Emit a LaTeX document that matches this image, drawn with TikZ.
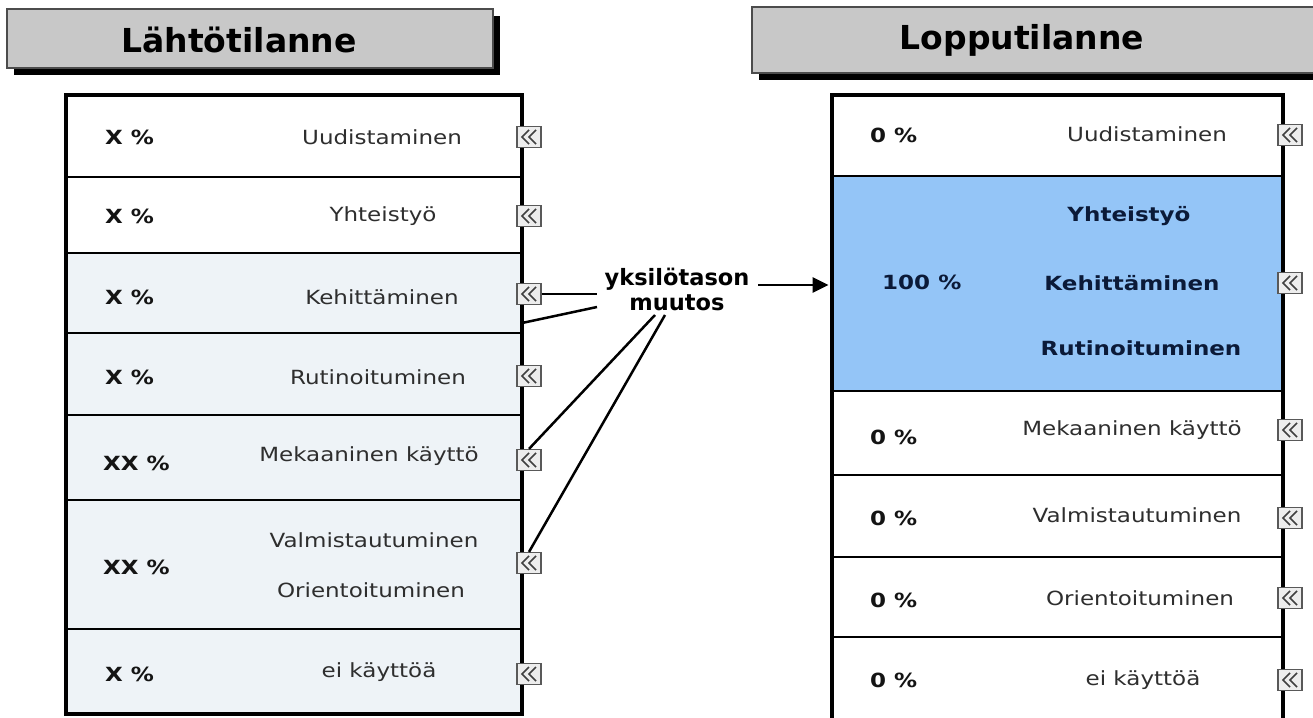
\documentclass[tikz,border=0pt]{standalone}
\usepackage{fontspec}
\setmainfont{DejaVu Sans}
\newfontfamily\rowfont[FakeStretch=1.18]{DejaVu Sans}
\usetikzlibrary{arrows.meta,shadows}
\definecolor{lightrow}{HTML}{EEF3F7}
\definecolor{hilite}{HTML}{94C5F7}
\definecolor{titlegrey}{HTML}{C8C8C8}
\definecolor{labelgrey}{HTML}{2E2E2E}
\definecolor{navy}{HTML}{0B1A38}
\definecolor{icongrey}{HTML}{EDEDED}
\begin{document}
\begin{tikzpicture}[x=1pt,y=-1pt,
  titlebox/.style={draw=black!70, line width=1.4pt, fill=titlegrey, inner sep=0pt,
    drop shadow={shadow xshift=7pt, shadow yshift=-7pt, opacity=1, fill=black}},
  titletext/.style={font=\fontsize{33}{38}\selectfont\bfseries, text=black},
  lrow/.style={draw=black, line width=2.8pt, inner sep=0pt, minimum width=454pt},
  rrow/.style={draw=black, line width=2.8pt, inner sep=0pt, minimum width=449pt},
  pct/.style={font=\rowfont\fontsize{19.5}{23}\selectfont\bfseries, text=black!92, anchor=west, inner sep=0pt},
  lab/.style={font=\rowfont\fontsize{19.5}{23}\selectfont, text=labelgrey, inner sep=0pt},
  hlab/.style={font=\rowfont\fontsize{19.5}{23}\selectfont\bfseries, text=navy, inner sep=0pt},
  icon/.style={draw=black!65, line width=1.2pt, fill=icongrey, minimum width=24pt, minimum height=21pt, inner sep=0pt,
    path picture={
      \draw[black!75, line width=1.6pt]
        ([shift={(0,-7)}]path picture bounding box.center) -- ++(-7,7) -- ++(7,7);
      \draw[black!75, line width=1.6pt]
        ([shift={(7,-7)}]path picture bounding box.center) -- ++(-7,7) -- ++(7,7);
    }},
  conn/.style={draw=black, line width=2.5pt},
  midlab/.style={font=\fontsize{22.5}{25}\selectfont\bfseries, align=center, inner sep=0pt, text=black}
]
\useasboundingbox (0,0) rectangle (1313,717);
\fill[white] (0,0) rectangle (1313,717);
\clip (0,0) rectangle (1313,717);

% titles
\node[titlebox, minimum width=486pt, minimum height=59pt] (TL) at (250,38.5) {};
\node[titletext] (TLt) at (239,40) {Lähtötilanne};
\node[titlebox, minimum width=578pt, minimum height=66pt] (TR) at (1041,40) {};
\node[titletext] (TRt) at (1022,40) {Lopputilanne};

% left table rows
\node[lrow, fill=white, minimum height=81pt] (L1) at (294,136.5) {};
\node[lrow, fill=white, minimum height=76pt] (L2) at (294,215) {};
\node[lrow, fill=lightrow, minimum height=80pt] (L3) at (294,293) {};
\node[lrow, fill=lightrow, minimum height=82pt] (L4) at (294,374) {};
\node[lrow, fill=lightrow, minimum height=85pt] (L5) at (294,457.5) {};
\node[lrow, fill=lightrow, minimum height=129pt] (L6) at (294,564.5) {};
\node[lrow, fill=lightrow, minimum height=84pt] (L7) at (294,671) {};
\draw[line width=3.4pt] (L1.north west) rectangle (L7.south east);

% right table rows
\node[rrow, fill=white, minimum height=80pt] (R1) at (1057.5,136) {};
\node[rrow, fill=hilite, minimum height=215pt] (R2) at (1057.5,283.5) {};
\node[rrow, fill=white, minimum height=84pt] (R3) at (1057.5,433) {};
\node[rrow, fill=white, minimum height=82pt] (R4) at (1057.5,516) {};
\node[rrow, fill=white, minimum height=80pt] (R5) at (1057.5,597) {};
\node[rrow, fill=white, minimum height=100pt] (R6) at (1057.5,687) {};
\draw[line width=3.4pt] (R1.north west) rectangle (R6.south east);

% left texts
\node[pct] (lp1) at (105,137) {X \%};
\node[lab] (ll1) at (382,137) {Uudistaminen};
\node[pct] (lp2) at (105,216) {X \%};
\node[lab] (ll2) at (383,216) {Yhteistyö};
\node[pct] (lp3) at (105,297) {X \%};
\node[lab] (ll3) at (382,297) {Kehittäminen};
\node[pct] (lp4) at (105,377) {X \%};
\node[lab] (ll4) at (378,377) {Rutinoituminen};
\node[pct] (lp5) at (103,463) {XX \%};
\node[lab] (ll5) at (369,456) {Mekaaninen käyttö};
\node[pct] (lp6) at (103,567) {XX \%};
\node[lab] (ll6a) at (374,540) {Valmistautuminen};
\node[lab] (ll6b) at (371,590) {Orientoituminen};
\node[pct] (lp7) at (105,674) {X \%};
\node[lab] (ll7) at (379,672) {ei käyttöä};

% right texts
\node[pct] (rp1) at (870,135) {0 \%};
\node[lab] (rl1) at (1147,134) {Uudistaminen};
\node[pct, text=navy] (rp2) at (882,282) {100 \%};
\node[hlab] (rl2a) at (1129,216) {Yhteistyö};
\node[hlab] (rl2b) at (1132,283) {Kehittäminen};
\node[hlab] (rl2c) at (1141,348) {Rutinoituminen};
\node[pct] (rp3) at (870,437) {0 \%};
\node[lab] (rl3) at (1132,430) {Mekaaninen käyttö};
\node[pct] (rp4) at (870,518) {0 \%};
\node[lab] (rl4) at (1137,515) {Valmistautuminen};
\node[pct] (rp5) at (870,600) {0 \%};
\node[lab] (rl5) at (1140,598) {Orientoituminen};
\node[pct] (rp6) at (870,680) {0 \%};
\node[lab] (rl6) at (1143,680) {ei käyttöä};

% icons left
\node[icon] (iL1) at (529,137) {};
\node[icon] (iL2) at (529,216) {};
\node[icon] (iL3) at (529,294) {};
\node[icon] (iL4) at (529,376) {};
\node[icon] (iL5) at (529,460) {};
\node[icon] (iL6) at (529,563) {};
\node[icon] (iL7) at (529,674) {};
% icons right
\node[icon] (iR1) at (1290,135) {};
\node[icon] (iR2) at (1290,283) {};
\node[icon] (iR3) at (1290,430) {};
\node[icon] (iR4) at (1290,518) {};
\node[icon] (iR5) at (1290,598) {};
\node[icon] (iR6) at (1290,680) {};

% middle label and connectors
\node[midlab] (mid) at (677,289) {yksilötason\\muutos};
\coordinate (c1) at (597,294);
\coordinate (c2a) at (522,323);
\coordinate (c2) at (597,307);
\coordinate (c3) at (655,315);
\coordinate (c4) at (665,315);
\coordinate (c5) at (758,285);
\draw[conn] (iL3.east) -- (c1);
\draw[conn] (c2a) -- (c2);
\draw[conn] (c3) -- (iL5.north);
\draw[conn] (c4) -- (iL6.north);
\draw[conn, -{Triangle[length=16pt,width=15pt]}, shorten >=3pt] (c5) -- (R2.west |- c5);
\end{tikzpicture}
\end{document}
